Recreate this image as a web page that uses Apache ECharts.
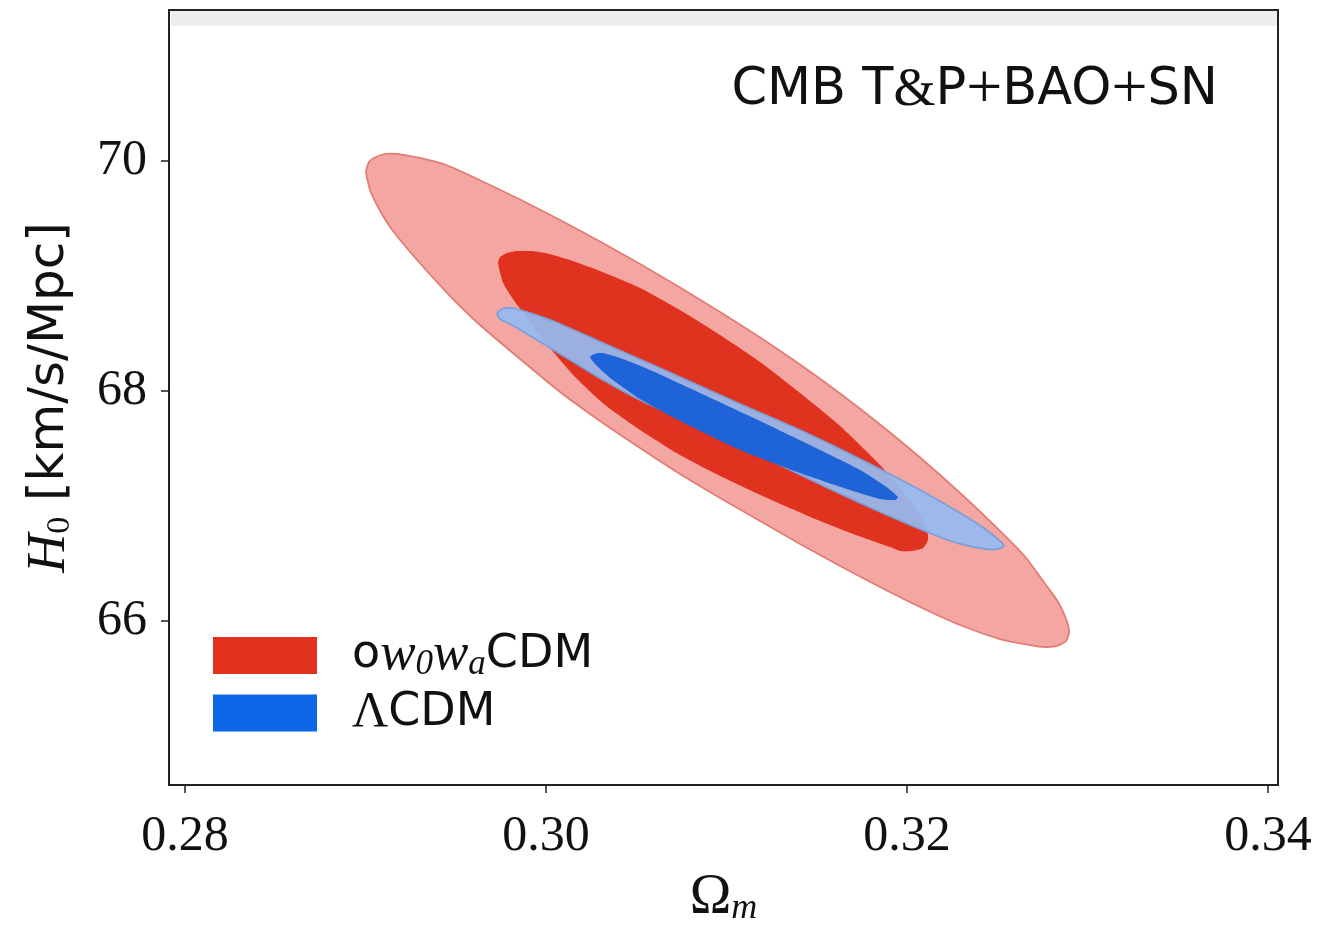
<!DOCTYPE html>
<html><head><meta charset="utf-8">
<script src="https://cdn.jsdelivr.net/npm/echarts@6/dist/echarts.min.js"></script>
<style>html,body{margin:0;padding:0;background:#fff}#c{width:1318px;height:935px}</style>
</head><body><div id="c"></div>
<script>
// Tick values
const xTicks = [0.28, 0.30, 0.32, 0.34];
const yTicks = [66, 68, 70];
// Contour boundaries: [Omega_m, H0]
const ow0waCDM_2sigma = [
 [0.29003,69.904],[0.29019,69.991],[0.29058,70.035],[0.29114,70.061],[0.29175,70.061],[0.29247,70.043],
 [0.29330,70.017],[0.29413,69.983],[0.29524,69.913],[0.29690,69.791],[0.29856,69.665],[0.30078,69.487],
 [0.30299,69.300],[0.30521,69.104],[0.30742,68.900],[0.30964,68.687],[0.31186,68.465],[0.31407,68.230],
 [0.31629,67.978],[0.31850,67.709],[0.32072,67.422],[0.32294,67.113],[0.32515,66.783],[0.32654,66.557],
 [0.32765,66.322],[0.32837,66.165],[0.32881,66.017],[0.32898,65.904],[0.32881,65.826],[0.32831,65.783],
 [0.32765,65.774],[0.32681,65.791],[0.32515,65.843],[0.32294,65.965],[0.32072,66.122],[0.31850,66.296],
 [0.31629,66.478],[0.31407,66.670],[0.31186,66.870],[0.30964,67.070],[0.30742,67.278],[0.30521,67.504],
 [0.30299,67.739],[0.30078,67.991],[0.29856,68.278],[0.29634,68.574],[0.29468,68.826],[0.29330,69.061],
 [0.29219,69.261],[0.29136,69.426],[0.29069,69.600],[0.29025,69.748]
];
const ow0waCDM_1sigma = [
 [0.29734,69.113],[0.29745,69.165],[0.29784,69.200],[0.29839,69.217],[0.29911,69.217],[0.29995,69.200],
 [0.30133,69.139],[0.30299,69.043],[0.30521,68.896],[0.30742,68.704],[0.30964,68.487],[0.31186,68.252],
 [0.31407,67.983],[0.31629,67.696],[0.31850,67.357],[0.31989,67.104],[0.32072,66.922],[0.32111,66.791],
 [0.32116,66.704],[0.32089,66.635],[0.32028,66.609],[0.31961,66.609],[0.31906,66.643],[0.31701,66.757],
 [0.31518,66.870],[0.31224,67.070],[0.30964,67.261],[0.30742,67.443],[0.30521,67.661],[0.30327,67.878],
 [0.30161,68.122],[0.30022,68.374],[0.29911,68.600],[0.29828,68.774],[0.29762,68.939]
];
const LCDM_2sigma = [
 [0.29729,68.670],[0.29745,68.704],[0.29784,68.722],[0.29839,68.713],[0.30039,68.609],[0.30316,68.417],
 [0.30593,68.226],[0.30853,68.043],[0.31075,67.887],[0.31407,67.661],[0.31740,67.409],[0.32072,67.139],
 [0.32294,66.939],[0.32432,66.800],[0.32515,66.696],[0.32537,66.652],[0.32504,66.626],[0.32432,66.626],
 [0.32294,66.670],[0.32166,66.739],[0.31889,66.922],[0.31573,67.148],[0.31296,67.357],[0.31075,67.522],
 [0.30798,67.722],[0.30521,67.922],[0.30316,68.096],[0.30133,68.270],[0.29950,68.443],[0.29812,68.574],
 [0.29745,68.626]
];
const LCDM_1sigma = [
 [0.30244,68.296],[0.30266,68.322],[0.30310,68.330],[0.30410,68.287],[0.30576,68.183],[0.30853,67.983],
 [0.31186,67.739],[0.31518,67.487],[0.31740,67.313],[0.31878,67.174],[0.31950,67.078],[0.31934,67.052],
 [0.31850,67.061],[0.31684,67.139],[0.31407,67.287],[0.31075,67.487],[0.30742,67.739],[0.30521,67.930],
 [0.30355,68.113],[0.30277,68.226]
];
const seriesNames = ['ow0waCDM', 'ΛCDM'];

function contour(name, pts, fill, stroke, lw, z) {
  return {
    type: 'custom', name: name, coordinateSystem: 'cartesian2d', z: z, silent: true, clip: true,
    itemStyle: { color: fill },
    data: [pts[0]],
    renderItem: function (params, api) {
      return {
        type: 'polygon',
        shape: { points: pts.map(function (p) { return api.coord(p); }), smooth: 0.2 },
        style: { fill: fill, stroke: stroke, lineWidth: lw }
      };
    }
  };
}

const chart = echarts.init(document.getElementById('c'));
chart.setOption({
  animation: false,
  backgroundColor: '#fff',
  grid: { left: 169, top: 10, right: 40, bottom: 150, outerBoundsMode: 'none', containLabel: false,
          show: true, borderColor: '#222', borderWidth: 2, backgroundColor: 'transparent' },
  graphic: [{ type: 'rect', shape: { x: 171, y: 11, width: 1106, height: 15 }, style: { fill: '#eeeeee' }, z: 0 }],
  title: {
    text: '{s|CMB T}{r|&}{s|P}{p|+}{s|BAO}{p|+}{s|SN}',
    right: 95, top: 54,
    textStyle: { fontWeight: 'normal', rich: {
      s: { fontFamily: 'DejaVu Sans', fontWeight: 'normal', fontSize: 51, color: '#111' },
      r: { fontFamily: 'Liberation Serif', fontWeight: 'normal', fontSize: 54, color: '#111' },
      p: { fontFamily: 'Liberation Serif', fontWeight: 'normal', fontSize: 64, color: '#111' }
    } }
  },
  legend: {
    orient: 'vertical', left: 208, top: 624, itemWidth: 104, itemHeight: 37, itemGap: 6,
    icon: 'rect',
    data: [
      { name: seriesNames[0], itemStyle: { color: '#e2321d' } },
      { name: seriesNames[1], itemStyle: { color: '#0b67e6' } }
    ],
    formatter: function (n) {
      return n === seriesNames[0] ? '{n|o}{i|w}{s|0}{i|w}{s|a}{n|CDM}' : '{g|Λ}{n|CDM}';
    },
    textStyle: {
      padding: [0, 0, 0, 30],
      rich: {
        n: { fontFamily: 'DejaVu Sans', fontSize: 46, color: '#111' },
        g: { fontFamily: 'Liberation Serif', fontSize: 50, color: '#111' },
        i: { fontFamily: 'Liberation Serif', fontStyle: 'italic', fontSize: 53, color: '#111' },
        s: { fontFamily: 'Liberation Serif', fontStyle: 'italic', fontSize: 35, color: '#111', padding: [18, 0, 0, 0] }
      }
    }
  },
  xAxis: {
    type: 'value', min: 0.27911, max: 0.34055,
    name: '{a|Ω}{b|m}', nameLocation: 'middle', nameGap: 84,
    nameTextStyle: { rich: {
      a: { fontFamily: 'Liberation Serif', fontSize: 56, color: '#111' },
      b: { fontFamily: 'Liberation Serif', fontStyle: 'italic', fontSize: 36, color: '#111', padding: [22, 0, 0, 0] }
    } },
    splitLine: { show: false },
    axisLine: { show: false },
    axisTick: { show: true, inside: false, length: 8, customValues: xTicks, lineStyle: { color: '#222', width: 1.5 } },
    axisLabel: { customValues: xTicks, margin: 27, fontFamily: 'Liberation Serif', fontSize: 50, color: '#111',
      formatter: function (v) { return v.toFixed(2); } }
  },
  yAxis: {
    type: 'value', min: 64.574, max: 71.313,
    name: '{h|H}{z|0}{u| [km/s/Mpc]}', nameLocation: 'middle', nameGap: 92, nameRotate: 90,
    nameTextStyle: { rich: {
      h: { fontFamily: 'Liberation Serif', fontStyle: 'italic', fontSize: 54, color: '#111' },
      z: { fontFamily: 'Liberation Serif', fontSize: 34, color: '#111', padding: [20, 0, 0, 0] },
      u: { fontFamily: 'DejaVu Sans', fontSize: 50, color: '#111' }
    } },
    splitLine: { show: false },
    axisLine: { show: false },
    axisTick: { show: true, inside: false, length: 8, customValues: yTicks, lineStyle: { color: '#222', width: 1.5 } },
    axisLabel: { customValues: yTicks, margin: 22, fontFamily: 'Liberation Serif', fontSize: 50, color: '#111' }
  },
  series: [
    contour('outer', ow0waCDM_2sigma, '#f4a7a2', '#e27d76', 1.8, 2),
    contour(seriesNames[0], ow0waCDM_1sigma, '#e0331f', 'transparent', 0, 3),
    contour('outerL', LCDM_2sigma, 'rgba(150,186,240,0.93)', '#7b9fd9', 1.8, 4),
    contour(seriesNames[1], LCDM_1sigma, '#1f63d8', 'transparent', 0, 5)
  ]
});
</script></body></html>
